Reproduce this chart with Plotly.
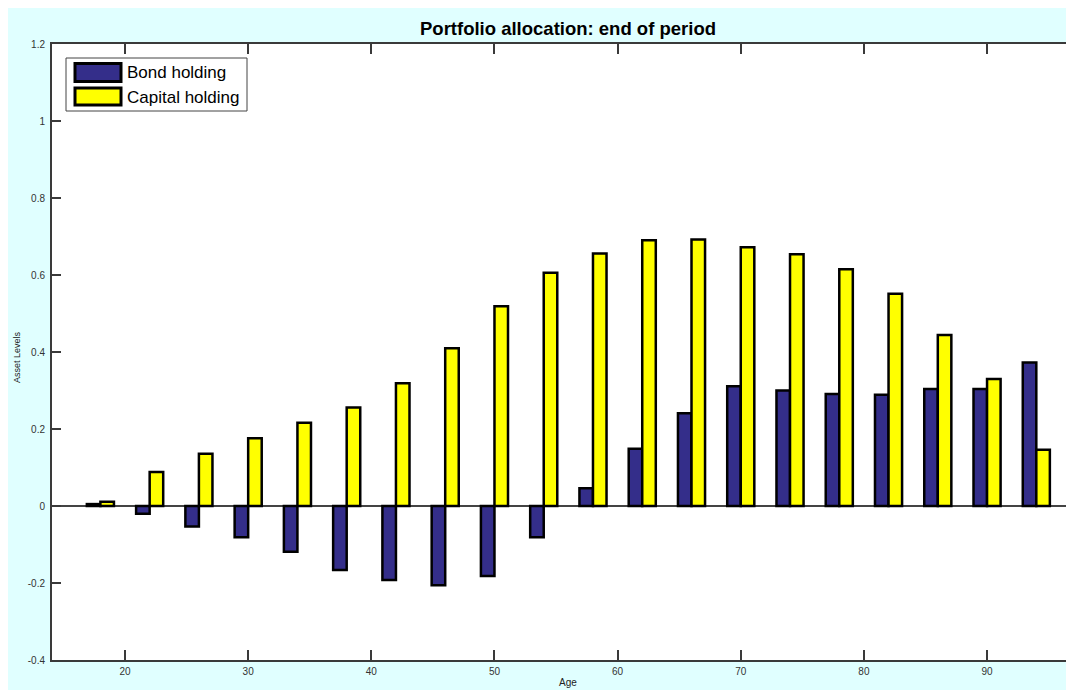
import plotly.graph_objects as go

# ---- data ----
ages = [18, 22, 26, 30, 34, 38, 42, 46, 50, 54, 58, 62, 66, 70, 74, 78, 82, 86, 90, 94]
bond_holding = [0.005, -0.020, -0.053, -0.081, -0.119, -0.166, -0.192, -0.206, -0.182, -0.081,
                0.046, 0.149, 0.241, 0.311, 0.300, 0.291, 0.289, 0.304, 0.304, 0.373]
capital_holding = [0.011, 0.088, 0.136, 0.176, 0.216, 0.256, 0.319, 0.410, 0.519, 0.606,
                   0.656, 0.690, 0.692, 0.672, 0.654, 0.615, 0.551, 0.444, 0.330, 0.146]
series_names = ["Bond holding", "Capital holding"]
x_tick_vals = [20, 30, 40, 50, 60, 70, 80, 90]
y_tick_vals = [-0.4, -0.2, 0, 0.2, 0.4, 0.6, 0.8, 1.0, 1.2]
y_tick_text = ["-0.4", "-0.2", "0", "0.2", "0.4", "0.6", "0.8", "1", "1.2"]

# ---- style ----
W, H = 1074, 690
PL, PR, PT, PB = 44, 1074, 36, 652   # plot area in figure pixels
BOND_COLOR = "#342e8a"
CAP_COLOR = "#ffff00"
BG_CYAN = "#e0ffff"
FONT = "Liberation Sans, Arial, sans-serif"
AX = "#3a3a3a"


def px(x):
    return (x - PL) / (PR - PL)


def py(y):
    return (PB - y) / (PB - PT)


fig = go.Figure()
for name, vals, col in [(series_names[0], bond_holding, BOND_COLOR),
                        (series_names[1], capital_holding, CAP_COLOR)]:
    fig.add_bar(x=ages, y=vals, name=name, showlegend=False,
                marker=dict(color=col, line=dict(color="black", width=2.5)))

shapes = [
    # legend box and swatches
    dict(type="rect", xref="paper", yref="paper", x0=px(58), x1=px(239), y0=py(103), y1=py(50),
         fillcolor="white", line=dict(color="#444", width=1), layer="above"),
    dict(type="rect", xref="paper", yref="paper", x0=px(67), x1=px(113), y0=py(73.5), y1=py(55.5),
         fillcolor=BOND_COLOR, line=dict(color="black", width=3), layer="above"),
    dict(type="rect", xref="paper", yref="paper", x0=px(67), x1=px(113), y0=py(97), y1=py(80),
         fillcolor=CAP_COLOR, line=dict(color="black", width=3), layer="above"),
]

annotations = [
    dict(text=series_names[0], xref="paper", yref="paper", x=px(117), y=py(65),
         xanchor="left", yanchor="middle", showarrow=False, font=dict(size=17, color="black", family=FONT)),
    dict(text=series_names[1], xref="paper", yref="paper", x=px(117), y=py(89),
         xanchor="left", yanchor="middle", showarrow=False, font=dict(size=17, color="black", family=FONT)),
    dict(text="Age", xref="paper", yref="paper", x=px(560), y=py(681.5),
         xanchor="center", yanchor="bottom", showarrow=False, font=dict(size=10, color="#222", family=FONT)),
    dict(text="Asset Levels", xref="paper", yref="paper", x=px(9), y=py(349), textangle=-90,
         xanchor="center", yanchor="middle", showarrow=False, font=dict(size=9, color="#222", family=FONT)),
]

fig.update_layout(
    width=W, height=H,
    margin=dict(l=PL, r=W - PR, t=PT, b=H - PB, autoexpand=False),
    paper_bgcolor=BG_CYAN, plot_bgcolor="white",
    font=dict(family=FONT, color="#222"),
    title=dict(text="<b>Portfolio allocation: end of period</b>", x=560 / W, xanchor="center",
               xref="container", y=1 - 21 / H, yanchor="middle", yref="container",
               font=dict(size=18.5, color="black", family=FONT)),
    barmode="group", bargap=0.45, bargroupgap=0,
    shapes=shapes, annotations=annotations, showlegend=False,
    xaxis=dict(range=[14.07, 97.71], tickvals=x_tick_vals, ticks="inside", ticklen=10, tickwidth=1.5,
               tickcolor=AX, showline=True, linecolor=AX, linewidth=2, mirror="ticks",
               showgrid=False, zeroline=False, tickfont=dict(size=10, color="#333"),
               ticklabelstandoff=1),
    yaxis=dict(range=[-0.4, 1.2], tickvals=y_tick_vals, ticktext=y_tick_text, ticks="inside",
               ticklen=9, tickwidth=1.5, tickcolor=AX, showline=True, linecolor=AX, linewidth=2,
               showgrid=False, zeroline=True, zerolinecolor="#444", zerolinewidth=1.5,
               tickfont=dict(size=10, color="#333"), ticklabelstandoff=3),
)

fig.write_html("out.html")
